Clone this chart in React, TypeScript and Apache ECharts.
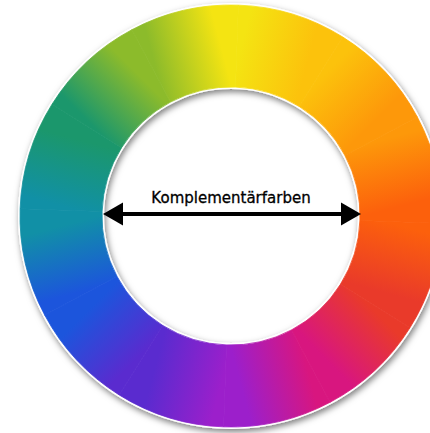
import React, { useEffect, useRef } from "react";
import * as echarts from "echarts";

// Colours of the wheel read every 30° clockwise starting at 12 o'clock
const wheelColors = [
  "#f4e412",
  "#fcc20c",
  "#fd980a",
  "#fc600c",
  "#e93a2a",
  "#d8167f",
  "#9c1fcb",
  "#5a2bcf",
  "#1c55dc",
  "#1190a6",
  "#1b976c",
  "#8cbb2b",
];
const segmentShares = [1, 1, 1, 1, 1, 1, 1, 1, 1, 1, 1, 1];
const labelText = "Komplementärfarben";

const CX = 231;
const CY = 216;
const R_OUT = 211;
const R_IN = 129;

export default function App() {
  const ref = useRef<HTMLDivElement>(null);
  useEffect(() => {
    if (!ref.current) return;
    const chart = echarts.init(ref.current, undefined, { renderer: "svg" });
    const n = segmentShares.length;
    const total = segmentShares.reduce((a, b) => a + b, 0);
    const rg = R_IN + 4;
    let acc = 0;
    const data = segmentShares.map((v, i) => {
      const a0 = (acc / total) * Math.PI * 2;
      acc += v;
      const a1 = (acc / total) * Math.PI * 2;
      const x0 = CX + rg * Math.sin(a0);
      const y0 = CY - rg * Math.cos(a0);
      const x1 = CX + rg * Math.sin(a1);
      const y1 = CY - rg * Math.cos(a1);
      const c0 = wheelColors[i];
      const c1 = wheelColors[(i + 1) % n];
      const g = () =>
        new echarts.graphic.LinearGradient(
          x0,
          y0,
          x1,
          y1,
          [
            { offset: 0, color: c0 },
            { offset: 1, color: c1 },
          ],
          true
        );
      return {
        value: v,
        itemStyle: { color: g(), borderColor: g(), borderWidth: 0.8 },
      };
    });

    const tipL = 103;
    const tipR = 361;
    const ay = 214;
    chart.setOption({
      animation: false,
      backgroundColor: "#ffffff",
      graphic: [
        {
          type: "ring",
          z: 0,
          silent: true,
          shape: { cx: CX, cy: CY, r: R_OUT + 2, r0: R_IN - 2 },
          style: {
            fill: "#ffffff",
            shadowBlur: 6,
            shadowColor: "rgba(0,0,0,0.5)",
            shadowOffsetX: 1.5,
            shadowOffsetY: 3,
          },
        },
        {
          type: "line",
          z: 100,
          silent: true,
          shape: { x1: tipL + 15, y1: ay, x2: tipR - 15, y2: ay },
          style: { stroke: "#000000", lineWidth: 4 },
        },
        {
          type: "polygon",
          z: 100,
          silent: true,
          shape: {
            points: [
              [tipL, ay],
              [tipL + 20, ay - 11.5],
              [tipL + 20, ay + 11.5],
            ],
          },
          style: { fill: "#000000" },
        },
        {
          type: "polygon",
          z: 100,
          silent: true,
          shape: {
            points: [
              [tipR, ay],
              [tipR - 20, ay - 11.5],
              [tipR - 20, ay + 11.5],
            ],
          },
          style: { fill: "#000000" },
        },
        {
          type: "text",
          z: 100,
          silent: true,
          x: 231,
          y: 198,
          style: {
            text: labelText,
            fill: "#000000",
            font: "15px 'DejaVu Sans', sans-serif",
            textAlign: "center",
            textVerticalAlign: "middle",
            stroke: "#000000",
            lineWidth: 0.3,
          },
        },
      ],
      series: [
        {
          type: "pie",
          z: 2,
          silent: true,
          radius: [R_IN, R_OUT],
          center: [CX, CY],
          startAngle: 88,
          clockwise: true,
          label: { show: false },
          labelLine: { show: false },
          emphasis: { disabled: true },
          data,
        },
      ],
    });
    return () => chart.dispose();
  }, []);
  return (
    <div
      ref={ref}
      style={{ position: "fixed", left: 0, top: 0, width: 430, height: 433 }}
    />
  );
}
